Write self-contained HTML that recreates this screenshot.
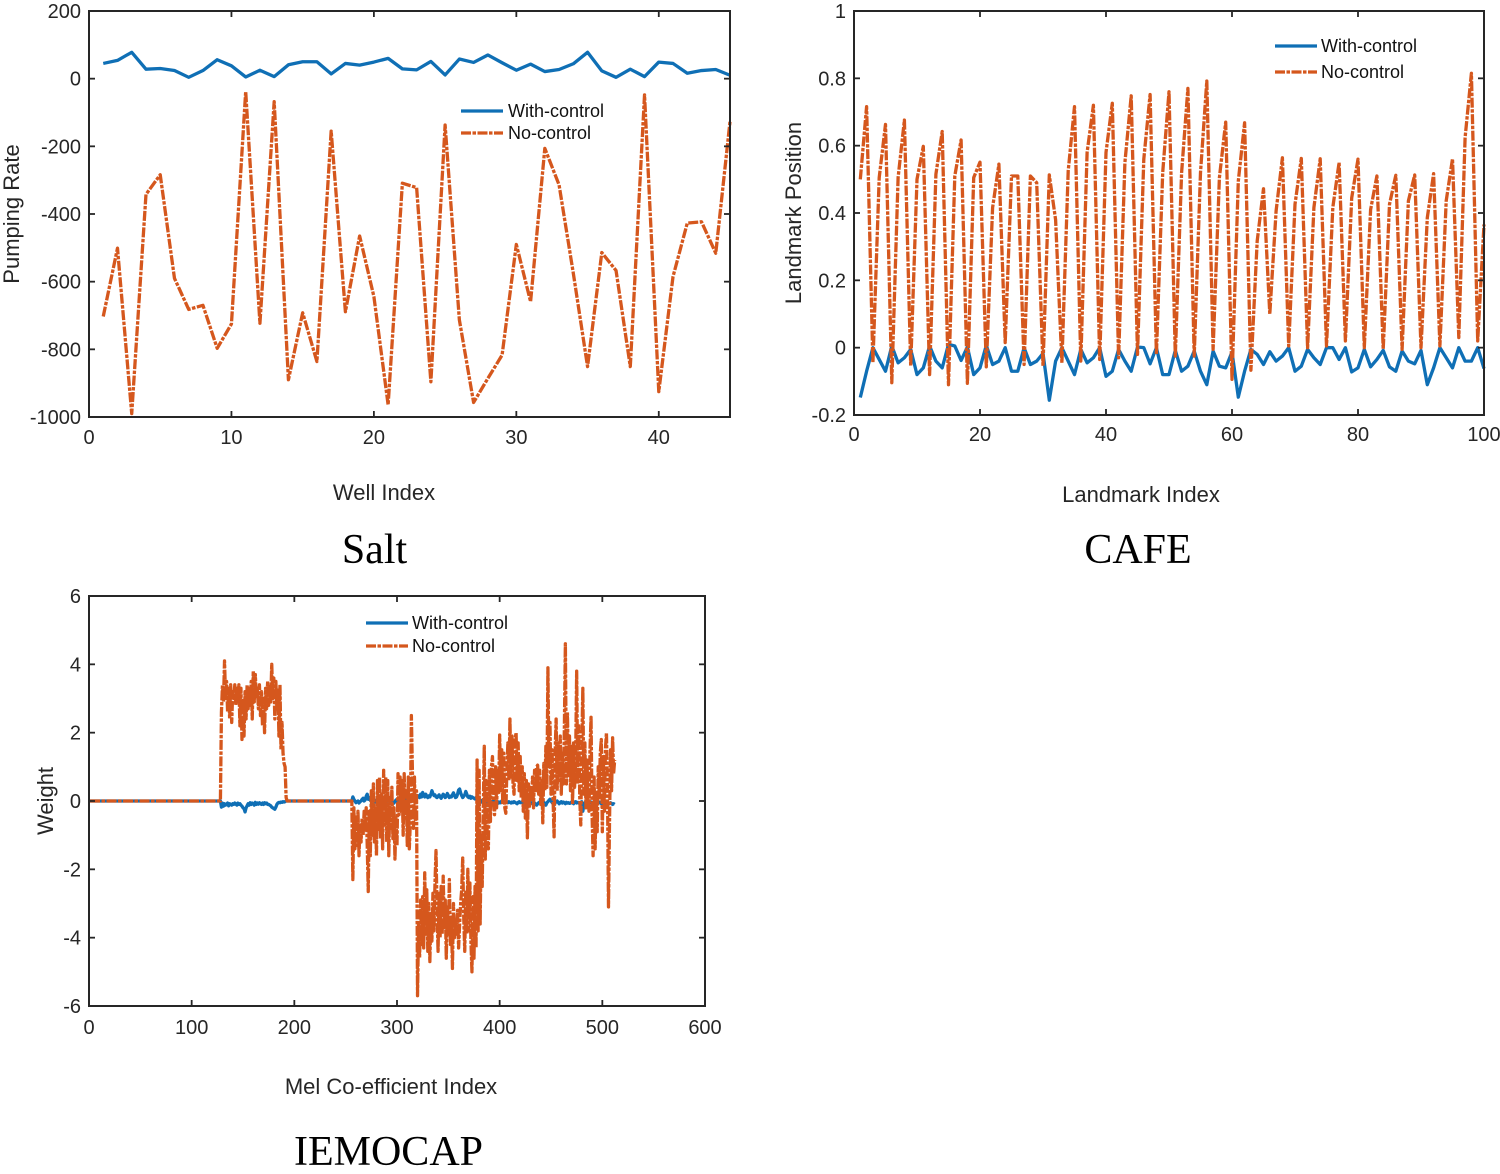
<!DOCTYPE html>
<html lang="en">
<head>
<meta charset="utf-8">
<title>Control comparison charts</title>
<style>
html,body{margin:0;padding:0;background:#fff;}
svg{display:block;}
text{font-family:"Liberation Sans",Arial,sans-serif;fill:#262626;}
.tick{font-size:20px;}
.axt{font-size:22px;}
.leg{font-size:18px;fill:#111;}
.cap{font-family:"Liberation Serif","Times New Roman",serif;font-size:42px;fill:#000;}
</style>
</head>
<body>
<svg id="figure" xmlns="http://www.w3.org/2000/svg" width="1500" height="1174" viewBox="0 0 1500 1174">
  <rect width="1500" height="1174" fill="#fff"/>
  <g id="salt-chart"></g>
  <g id="cafe-chart"></g>
  <g id="mel-chart"></g>

  <text class="axt" x="384" y="500" text-anchor="middle">Well Index</text>
  <text class="axt" transform="translate(19,214) rotate(-90)" text-anchor="middle">Pumping Rate</text>
  <text class="cap" x="374.5" y="563" text-anchor="middle">Salt</text>
  <g>
    <line x1="461" x2="503" y1="111" y2="111" stroke="#0f6fb5" stroke-width="3.3"/>
    <text class="leg" x="508" y="117">With-control</text>
    <line x1="461" x2="503" y1="133" y2="133" stroke="#d5571d" stroke-width="3.3" stroke-dasharray="10 1.5 3.5 1.5"/>
    <text class="leg" x="508" y="139">No-control</text>
  </g>

  <text class="axt" x="1141" y="502" text-anchor="middle">Landmark Index</text>
  <text class="axt" transform="translate(801,213) rotate(-90)" text-anchor="middle">Landmark Position</text>
  <text class="cap" x="1138" y="563" text-anchor="middle">CAFE</text>
  <g>
    <line x1="1275" x2="1317" y1="46" y2="46" stroke="#0f6fb5" stroke-width="3.3"/>
    <text class="leg" x="1321" y="52">With-control</text>
    <line x1="1275" x2="1317" y1="72" y2="72" stroke="#d5571d" stroke-width="3.3" stroke-dasharray="10 1.5 3.5 1.5"/>
    <text class="leg" x="1321" y="78">No-control</text>
  </g>

  <text class="axt" x="391" y="1094" text-anchor="middle">Mel Co-efficient Index</text>
  <text class="axt" transform="translate(53,801) rotate(-90)" text-anchor="middle">Weight</text>
  <text class="cap" x="388.5" y="1165" text-anchor="middle">IEMOCAP</text>
  <g>
    <line x1="366" x2="408" y1="623" y2="623" stroke="#0f6fb5" stroke-width="3.3"/>
    <text class="leg" x="412" y="629">With-control</text>
    <line x1="366" x2="408" y1="646" y2="646" stroke="#d5571d" stroke-width="3.3" stroke-dasharray="10 1.5 3.5 1.5"/>
    <text class="leg" x="412" y="652">No-control</text>
  </g>
</svg>
<script>
var saltXTicks = [0,10,20,30,40];
var saltYTicks = [200,0,-200,-400,-600,-800,-1000];
var saltWithControl = [45,54,78,28,30,24,4,24,56,38,5,25,6,41,50,50,14,45,40,49,60,29,26,51,11,58,48,70,47,25,43,21,27,44,78,23,4,28,6,49,45,16,24,27,10];
var saltNoControl = [-703,-501,-990,-342,-284,-590,-682,-670,-797,-725,-38,-723,-68,-890,-692,-836,-155,-689,-465,-644,-964,-309,-322,-896,-137,-713,-957,-886,-817,-490,-659,-206,-314,-575,-851,-514,-567,-851,-48,-925,-585,-427,-423,-516,-127];

var cafeXTicks = [0,20,40,60,80,100];
var cafeYTicks = [1,0.8,0.6,0.4,0.2,0,-0.2];
var cafeWithControl = [-0.148,-0.07,0,-0.035,-0.07,0.005,-0.045,-0.03,-0.005,-0.08,
-0.06,0.005,-0.04,-0.06,0.01,0.005,-0.038,0.002,-0.08,-0.06,
0.007,-0.05,-0.04,0,-0.07,-0.07,0,-0.05,-0.04,-0.017,
-0.156,-0.04,0,-0.04,-0.08,-0.005,-0.045,-0.03,0,-0.085,
-0.07,-0.005,-0.04,-0.07,0.002,0,-0.048,0,-0.08,-0.08,
-0.008,-0.07,-0.055,-0.01,-0.07,-0.11,-0.01,-0.055,-0.06,-0.013,
-0.147,-0.07,-0.005,-0.02,-0.05,-0.012,-0.04,-0.025,0,-0.07,
-0.055,-0.005,-0.03,-0.05,0,0,-0.035,0,-0.072,-0.06,
-0.005,-0.057,-0.035,-0.008,-0.057,-0.07,-0.01,-0.04,-0.048,-0.008,
-0.11,-0.06,0,-0.03,-0.06,0,-0.04,-0.04,0,-0.062];
var cafeNoControl = [0.5,0.716,-0.045,0.505,0.663,-0.104,0.505,0.676,-0.054,0.5,
0.598,-0.08,0.515,0.642,-0.11,0.51,0.617,-0.106,0.505,0.551,
-0.057,0.416,0.545,0.015,0.51,0.51,-0.05,0.51,0.49,-0.054,
0.513,0.38,-0.045,0.525,0.716,-0.04,0.58,0.72,-0.035,0.58,
0.726,-0.03,0.55,0.748,-0.02,0.56,0.752,-0.02,0.52,0.76,
-0.025,0.52,0.77,-0.025,0.52,0.792,-0.005,0.505,0.67,-0.094,
0.495,0.668,-0.067,0.317,0.472,0.1,0.406,0.564,0.005,0.426,
0.562,0,0.416,0.561,0.005,0.416,0.55,0.02,0.445,0.56,
0,0.41,0.51,-0.005,0.426,0.512,-0.005,0.436,0.513,0,
0.386,0.517,0.005,0.436,0.561,0.03,0.624,0.815,0.02,0.366];

var melXTicks = [0,100,200,300,400,500,600];
var melYTicks = [6,4,2,0,-2,-4,-6];
var melWithControl = [
0,0,0,0,0,0,0,0,0,0,0,0,0,0,0,0,0,0,0,0,0,0,0,0,0,0,0,0,0,0,0,0,
0,0,0,0,0,0,0,0,0,0,0,0,0,0,0,0,0,0,0,0,0,0,0,0,0,0,0,0,0,0,0,0,
0,0,0,0,0,0,0,0,0,0,0,0,0,0,0,0,0,0,0,0,0,0,0,0,0,0,0,0,0,0,0,0,
0,0,0,0,0,0,0,0,0,0,0,0,0,0,0,0,0,0,0,0,0,0,0,0,0,0,0,0,0,0,0,0,
-0.18,-0.06,-0.15,-0.08,-0.12,-0.1,-0.06,-0.14,-0.08,-0.1,
-0.12,-0.08,-0.1,-0.06,-0.09,-0.12,-0.06,-0.1,-0.08,-0.12,
-0.15,-0.2,-0.22,-0.32,-0.2,-0.14,-0.08,-0.12,-0.05,-0.1,
-0.06,-0.08,-0.12,-0.04,-0.1,-0.06,-0.09,-0.05,-0.08,-0.1,
-0.06,-0.1,-0.05,-0.08,-0.06,-0.1,-0.1,-0.12,-0.14,-0.18,
-0.2,-0.22,-0.24,-0.18,-0.1,-0.06,-0.04,-0.05,-0.03,-0.04,
-0.02,-0.03,-0.02,0,
0,0,0,0,0,0,0,0,0,0,0,0,0,0,0,0,0,0,0,0,0,0,0,0,0,0,0,0,0,0,0,0,
0,0,0,0,0,0,0,0,0,0,0,0,0,0,0,0,0,0,0,0,0,0,0,0,0,0,0,0,0,0,0,0,
0.12,0.05,0,-0.05,-0.02,0,-0.06,-0.02,0,0.05,
0.08,0,0.03,0.14,0.2,0.05,0.1,0.02,0.08,0.12,
0.06,0,-0.03,0.02,0.06,-0.02,0.04,0,-0.05,-0.02,
0.03,0,-0.06,-0.02,0.04,0,0.02,-0.05,-0.08,-0.03,
-0.06,-0.02,0.03,0,-0.04,0.03,0.1,0.05,0,0.06,
0.1,0.04,-0.02,0.03,0.08,0.03,0.12,0.06,
0,0.05,0.1,0.04,0.08,0.12,
0.15,0.1,0.2,0.12,0.25,0.16,0.12,0.2,0.14,0.1,
0.15,0.12,0.2,0.3,0.22,0.16,0.18,0.12,0.1,0.14,
0.18,0.12,0.08,0.14,0.2,0.16,0.1,0.14,0.22,0.16,
0.1,0.14,0.12,0.18,0.24,0.16,0.1,0.12,0.2,0.32,
0.35,0.24,0.16,0.1,0.14,0.18,0.28,0.2,0.12,0.1,
0.14,0.08,0.12,0.1,0.08,0.06,0.1,0.04,0.02,0.06,
0,-0.03,0.02,0,-0.02,0.02,-0.04,0,-0.03,0,
-0.06,-0.02,-0.05,0,-0.04,-0.08,-0.05,-0.02,-0.06,-0.03,
-0.05,0,-0.04,-0.05,-0.02,-0.04,-0.03,-0.05,-0.02,-0.04,
-0.06,-0.03,-0.05,-0.02,-0.04,-0.06,-0.08,-0.04,-0.02,-0.05,
-0.04,-0.02,-0.06,-0.04,-0.02,-0.05,-0.03,-0.06,-0.02,-0.04,
-0.06,-0.08,-0.04,-0.06,-0.1,-0.12,-0.08,-0.05,-0.03,-0.06,
-0.02,0,-0.04,-0.08,-0.12,-0.05,-0.02,0.02,0.05,0,
-0.04,-0.08,-0.12,-0.06,-0.02,0,-0.04,-0.08,-0.04,-0.02,
-0.06,-0.03,-0.05,-0.08,-0.04,-0.06,-0.05,-0.07,-0.06,-0.03,
-0.05,-0.08,-0.04,-0.02,-0.06,-0.04,-0.05,-0.08,-0.04,-0.02,
-0.3,-0.12,-0.06,-0.02,0,-0.04,-0.02,-0.05,-0.03,-0.06,
-0.04,-0.02,-0.05,-0.08,-0.04,-0.06,-0.03,-0.05,-0.08,-0.04,
-0.06,-0.09,-0.05,-0.07,-0.04,-0.06,-0.08,-0.05,-0.07,-0.1,
-0.08,-0.1];
var melNoControl = [
0,0,0,0,0,0,0,0,0,0,0,0,0,0,0,0,0,0,0,0,0,0,0,0,0,0,0,0,0,0,0,0,
0,0,0,0,0,0,0,0,0,0,0,0,0,0,0,0,0,0,0,0,0,0,0,0,0,0,0,0,0,0,0,0,
0,0,0,0,0,0,0,0,0,0,0,0,0,0,0,0,0,0,0,0,0,0,0,0,0,0,0,0,0,0,0,0,
0,0,0,0,0,0,0,0,0,0,0,0,0,0,0,0,0,0,0,0,0,0,0,0,0,0,0,0,0,0,0,0,
2.6,3.4,2.9,4.1,3.0,3.5,2.6,3.3,2.4,3.4,
2.3,3.2,3.0,3.4,2.8,3.3,2.9,3.4,2.2,3.3,
1.8,3.0,1.9,3.2,2.4,3.4,2.7,3.3,2.8,3.5,
2.4,3.8,2.9,3.7,3.0,3.3,2.7,3.4,2.5,3.2,
2.2,3.0,2.0,3.3,2.7,3.5,2.8,3.4,2.9,4.0,
3.0,3.6,2.4,3.5,2.7,3.3,1.9,3.4,1.5,2.3,
1.4,1.1,1.0,0.1,
0,0,0,0,0,0,0,0,0,0,0,0,0,0,0,0,0,0,0,0,0,0,0,0,0,0,0,0,0,0,0,0,
0,0,0,0,0,0,0,0,0,0,0,0,0,0,0,0,0,0,0,0,0,0,0,0,0,0,0,0,0,0,0,0,
-2.3,-0.2,-1.4,-0.4,-1.3,-0.3,-1.6,-0.7,-1.2,-0.5,
-1.0,-0.3,-0.9,-0.2,-1.3,-2.65,-0.3,-1.6,0.3,-1.0,
0.5,-1.2,-0.2,-1.6,0.6,-0.9,0.7,-1.1,0.2,-1.4,
0.9,-0.7,0.7,-1.2,0.6,-1.6,0.1,-0.8,0.4,-1.1,
-0.2,-1.7,-0.5,-1.3,0.8,-0.4,0.7,-0.3,0.6,-1.0,
0.8,-0.5,0.3,-1.3,0.7,-1.4,-0.6,2.5,0.9,-0.8,
0.7,-0.6,0.3,-5.7,
-3.6,-4.6,-2.9,-4.2,-2.8,-4.3,-2.1,-3.9,-2.6,-4.4,
-3.0,-4.7,-3.3,-4.1,-2.7,-3.8,-2.4,-1.45,-3.2,-4.4,
-2.7,-4.0,-2.5,-3.9,-2.2,-3.7,-2.9,-4.6,-3.1,-3.9,
-2.3,-4.2,-3.4,-4.9,-3.0,-4.0,-3.5,-3.9,-3.2,-4.3,
-3.6,-3.0,-2.6,-1.67,-3.4,-4.4,-2.6,-3.9,-2.0,-3.8,
-2.4,-4.1,-5.0,-2.8,-4.6,-2.5,-4.3,1.2,-3.8,0.9,
-3.6,-1.0,-2.5,-0.3,1.6,-1.7,0.6,-1.2,-1.4,0.9,
-0.6,1.0,1.3,0.1,-0.4,1.0,-0.2,0.9,0.2,1.93,
0.3,1.5,-0.1,1.4,-0.2,-0.36,0.9,1.7,0.6,2.4,
0.7,1.9,0.5,0.2,1.8,2.0,0.6,1.7,0.3,1.3,
0.1,1.0,-0.3,0.8,-0.5,0.6,-1.08,0.5,-0.2,0.4,
0,0.7,-0.2,0.9,0.3,1.0,1.05,0.2,0.9,-0.1,
0.6,-0.64,1.1,0.3,1.6,0.4,3.9,1.0,2.3,0.2,
1.5,0.1,-1.05,1.4,2.4,0.3,1.7,0.6,1.9,0.2,
1.4,0.5,2.1,4.6,0.5,2.6,0.7,1.9,0.3,1.6,
-0.1,1.7,0.4,1.2,3.8,0.5,2.2,0.1,-0.7,1.6,
3.3,0.2,1.7,-0.2,1.2,0.1,-0.3,1.5,2.45,-0.4,
-1.6,0.7,-1.4,0.3,-0.9,1.0,0.1,1.4,1.8,-0.9,
1.3,-0.3,1.5,2.0,0.4,-3.1,-0.6,1.5,0.3,1.85,
0.8,1.2];

var SVGNS = 'http://www.w3.org/2000/svg';

function linearScale(d0, d1, r0, r1) {
  return function (v) { return r0 + (v - d0) * (r1 - r0) / (d1 - d0); };
}

function drawSeries(parent, values, sx, sy, color, dash, name) {
  var parts = [];
  for (var i = 0; i < values.length; i++) {
    parts.push(sx(i + 1).toFixed(2) + ',' + sy(values[i]).toFixed(2));
  }
  var p = document.createElementNS(SVGNS, 'polyline');
  
  
  p.setAttribute('points', parts.join(' '));
  p.setAttribute('fill', 'none');
  p.setAttribute('stroke', color);
  p.setAttribute('stroke-width', '3.3');
  p.setAttribute('stroke-linejoin', 'round');
  if (dash) { p.setAttribute('stroke-dasharray', dash); }
  parent.appendChild(p);
}

function drawAxes(parent, box, sx, sy, xTicks, yTicks, xLabelY) {
  var frame = document.createElementNS(SVGNS, 'rect');
  
  
  frame.setAttribute('x', box.left);
  frame.setAttribute('y', box.top);
  frame.setAttribute('width', box.right - box.left);
  frame.setAttribute('height', box.bottom - box.top);
  frame.setAttribute('fill', 'none');
  frame.setAttribute('stroke', '#262626');
  frame.setAttribute('stroke-width', '2');
  parent.appendChild(frame);

  xTicks.forEach(function (t) {
    var x = sx(t);
    [[box.bottom, box.bottom - 6], [box.top, box.top + 6]].forEach(function (seg) {
      var l = document.createElementNS(SVGNS, 'line');
      
      
      l.setAttribute('x1', x);
      l.setAttribute('x2', x);
      l.setAttribute('y1', seg[0]);
      l.setAttribute('y2', seg[1]);
      l.setAttribute('stroke', '#262626');
      l.setAttribute('stroke-width', '1.8');
      parent.appendChild(l);
    });
    var txt = document.createElementNS(SVGNS, 'text');
    
    
    txt.setAttribute('class', 'tick');
    txt.setAttribute('x', x);
    txt.setAttribute('y', xLabelY);
    txt.setAttribute('text-anchor', 'middle');
    txt.textContent = String(t);
    parent.appendChild(txt);
  });

  yTicks.forEach(function (t) {
    var y = sy(t);
    [[box.left, box.left + 6], [box.right, box.right - 6]].forEach(function (seg) {
      var l = document.createElementNS(SVGNS, 'line');
      
      
      l.setAttribute('x1', seg[0]);
      l.setAttribute('x2', seg[1]);
      l.setAttribute('y1', y);
      l.setAttribute('y2', y);
      l.setAttribute('stroke', '#262626');
      l.setAttribute('stroke-width', '1.8');
      parent.appendChild(l);
    });
    var txt = document.createElementNS(SVGNS, 'text');
    
    
    txt.setAttribute('class', 'tick');
    txt.setAttribute('x', box.left - 8);
    txt.setAttribute('y', y + 7);
    txt.setAttribute('text-anchor', 'end');
    txt.textContent = String(t);
    parent.appendChild(txt);
  });
}

var BLUE = '#0f6fb5';
var ORANGE = '#d5571d';
var DASH = '10 1.5 3.5 1.5';

(function () {
  var g = document.getElementById('salt-chart');
  var box = { left: 89, right: 730, top: 11, bottom: 417 };
  var sx = linearScale(0, 45, box.left, box.right);
  var sy = linearScale(-1000, 200, box.bottom, box.top);
  drawSeries(g, saltWithControl, sx, sy, BLUE, null, 'salt-with-control-line');
  drawSeries(g, saltNoControl, sx, sy, ORANGE, DASH, 'salt-no-control-line');
  drawAxes(g, box, sx, sy, saltXTicks, saltYTicks, 444);
})();

(function () {
  var g = document.getElementById('cafe-chart');
  var box = { left: 854, right: 1484, top: 11, bottom: 415 };
  var sx = linearScale(0, 100, box.left, box.right);
  var sy = linearScale(-0.2, 1, box.bottom, box.top);
  drawSeries(g, cafeWithControl, sx, sy, BLUE, null, 'cafe-with-control-line');
  drawSeries(g, cafeNoControl, sx, sy, ORANGE, DASH, 'cafe-no-control-line');
  drawAxes(g, box, sx, sy, cafeXTicks, cafeYTicks, 441);
})();

(function () {
  var g = document.getElementById('mel-chart');
  var box = { left: 89, right: 705, top: 596, bottom: 1006 };
  var sx = linearScale(0, 600, box.left, box.right);
  var sy = linearScale(-6, 6, box.bottom, box.top);
  drawSeries(g, melWithControl, sx, sy, BLUE, null, 'iemocap-with-control-line');
  drawSeries(g, melNoControl, sx, sy, ORANGE, DASH, 'iemocap-no-control-line');
  drawAxes(g, box, sx, sy, melXTicks, melYTicks, 1034);
})();
</script>
</body>
</html>
